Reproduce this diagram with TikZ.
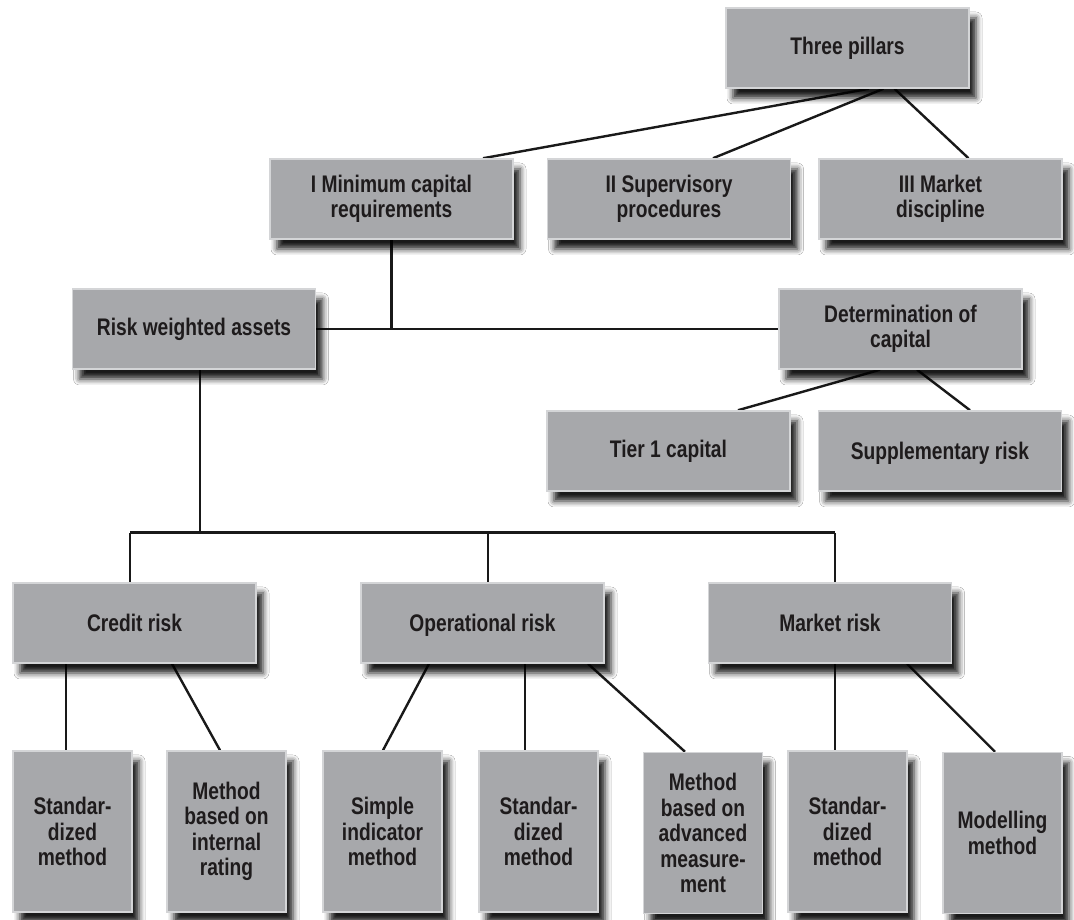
\documentclass[tikz,border=0pt]{standalone}
\usepackage{fontspec}
\newfontfamily\boxfont{Liberation Sans}[FakeStretch=0.8]
\usetikzlibrary{shadows.blur}

\definecolor{boxfill}{RGB}{167,168,171}
\definecolor{boxline}{RGB}{212,213,215}
\definecolor{boxtext}{RGB}{30,27,28}

\pgfdeclarelayer{bg}
\pgfsetlayers{bg,main}

\tikzset{
    box/.style={draw=boxline, line width=1.5pt, fill=boxfill, text=boxtext,
        blur shadow={shadow xshift=7pt, shadow yshift=-10pt, shadow blur radius=6pt, shadow opacity=90},
        minimum width=243pt, minimum height=80pt, inner sep=0pt, align=center,
        font=\boxfont\bfseries\fontsize{24}{25.5}\selectfont},
    tallbox/.style={box, minimum width=119pt, minimum height=161pt},
    link/.style={line width=2.4pt, draw=black!90},
}

\begin{document}
\begin{tikzpicture}[x=1pt,y=1pt]
    \useasboundingbox (0,0) rectangle (1074,920);

    % 绘制三大支柱
    \node[box] (tp) at (847.5,872) {Three pillars};
    \node[box] (min) at (391.5,721) {I Minimum capital\\requirements};
    \node[box] (sup) at (669,721) {II Supervisory\\procedures};
    \node[box] (mkt) at (940.5,721) {III Market\\discipline};

    % 绘制第二层
    \node[box] (rwa) at (194,591) {Risk weighted assets};
    \node[box] (det) at (900.5,591) {Determination of\\capital};
    \node[box] (tier) at (668.5,469) {Tier 1 capital};
    \node[box] (supp) at (940,469) {\raisebox{0pt}[\height][0pt]{Supplementary risk}};

    % 绘制三类风险
    \node[box] (credit) at (134.5,297) {Credit risk};
    \node[box] (op) at (482.5,297) {\raisebox{0pt}[\height][0pt]{Operational risk}};
    \node[box] (market) at (830,297) {Market risk};

    % 绘制方法
    \node[tallbox] (std1) at (72.5,88.5) {Standar-\\dized\\method};
    \node[tallbox] (irb) at (226.5,88.5) {Method\\based on\\internal\\rating};
    \node[tallbox] (simple) at (382.5,88.5) {Simple\\indicator\\method};
    \node[tallbox] (std2) at (538.5,88.5) {Standar-\\dized\\method};
    \node[tallbox] (adv) at (703,87) {Method\\based on\\advanced\\measure-\\ment};
    \node[tallbox] (std3) at (847.5,88.5) {Standar-\\dized\\method};
    \node[tallbox] (model) at (1002.5,87) {Modelling\\method};

    % 绘制连线
    \coordinate (busL) at (130,387);
    \coordinate (busT) at (200,387);
    \coordinate (busM) at (488,387);
    \coordinate (busR) at (835,387);
    \begin{pgfonlayer}{bg}
        \fill[white] (0,0) rectangle (1074,920);
        \draw[link] ([xshift=21.5pt]tp.south) -- ([xshift=91.5pt]min.north);
        \draw[link] ([xshift=36pt]tp.south) -- ([xshift=44pt]sup.north);
        \draw[link] ([xshift=47pt]tp.south) -- ([xshift=28pt]mkt.north);
        \draw[link] (min.south) -- (min.south |- rwa.east);
        \draw[link] (rwa.east) -- (det.west);
        \draw[link] ([xshift=-20.5pt]det.south) -- ([xshift=69.5pt]tier.north);
        \draw[link] ([xshift=16.5pt]det.south) -- ([xshift=30pt]supp.north);
        \draw[link] (busT |- rwa.south) -- (busT);
        \draw[link, line width=3pt] (busL) -- (busR);
        \draw[link] (busL) -- (busL |- credit.north);
        \draw[link] (busM) -- (busM |- op.north);
        \draw[link] (busR) -- (busR |- market.north);
        \draw[link] ([xshift=-68.5pt]credit.south) -- ([xshift=-6.5pt]std1.north);
        \draw[link] ([xshift=37.5pt]credit.south) -- ([xshift=-6.5pt]irb.north);
        \draw[link] ([xshift=-53.5pt]op.south) -- ([xshift=0.5pt]simple.north);
        \draw[link] ([xshift=42.5pt]op.south) -- ([xshift=-13.5pt]std2.north);
        \draw[link] ([xshift=105.5pt]op.south) -- ([xshift=-18pt]adv.north);
        \draw[link] ([xshift=5pt]market.south) -- ([xshift=-12.5pt]std3.north);
        \draw[link] ([xshift=77pt]market.south) -- ([xshift=-7.5pt]model.north);
    \end{pgfonlayer}
\end{tikzpicture}
\end{document}
